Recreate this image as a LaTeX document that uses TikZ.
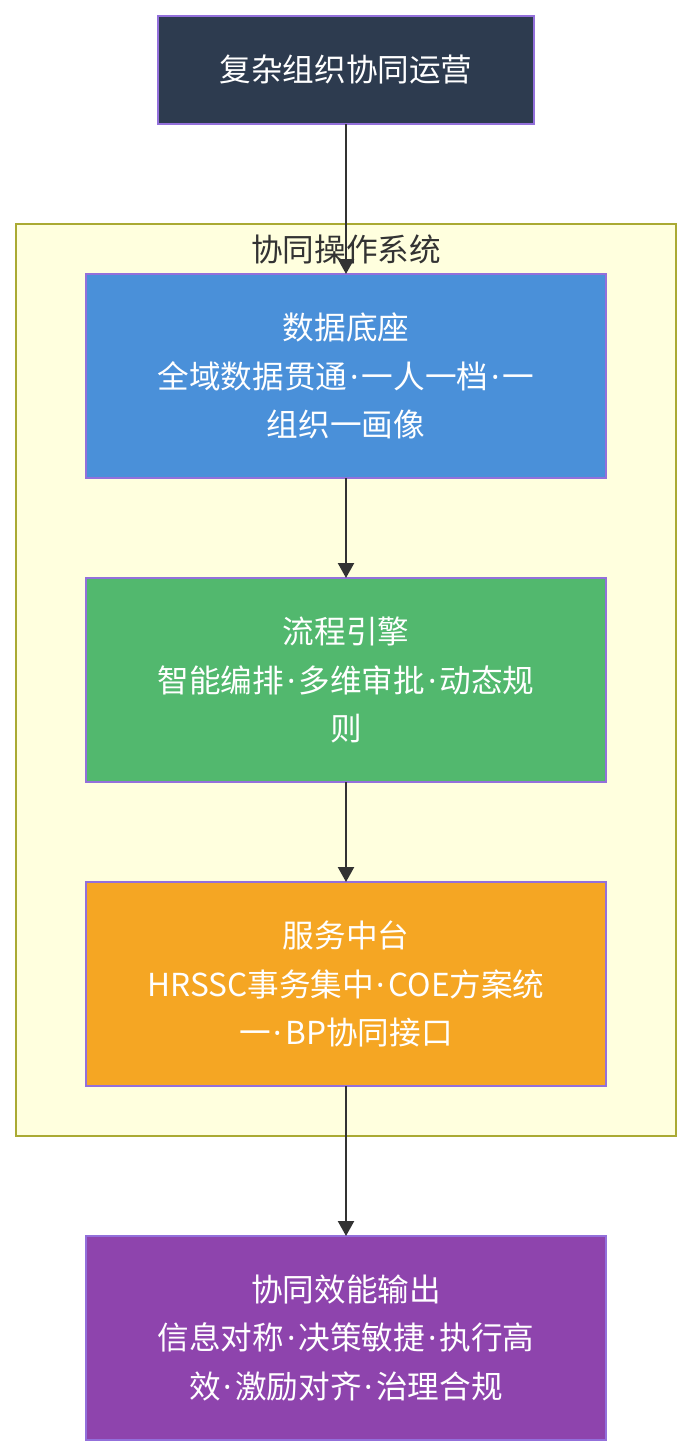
\documentclass[tikz,border=0pt]{standalone}
\usepackage{fontspec}
\setmainfont{Noto Sans CJK SC}
\newfontfamily\latinfont{Noto Sans}
\usetikzlibrary{arrows.meta, positioning, calc, backgrounds}
\definecolor{TopBg}{HTML}{2D3B4F}
\definecolor{DataBg}{HTML}{4A90D9}
\definecolor{FlowBg}{HTML}{52B86E}
\definecolor{ServBg}{HTML}{F5A623}
\definecolor{OutBg}{HTML}{8E44AD}
\definecolor{NodeBorder}{HTML}{9370DB}
\definecolor{ClusterBg}{HTML}{FFFFDE}
\definecolor{ClusterBorder}{HTML}{AAAA33}
\definecolor{LineDark}{HTML}{333333}
\newcommand{\sdot}{\kern0.06cm{\latinfont ·}\kern0.06cm}

\begin{document}
\begin{tikzpicture}[
        node distance=2cm,
        box/.style={rectangle, draw=NodeBorder, line width=0.04cm, outer sep=0pt, minimum width=10.4cm, minimum height=4.08cm, align=center, font=\fontsize{18}{27.5}\selectfont, text=white},
        tbox/.style={box, fill=TopBg, minimum width=7.52cm, minimum height=2.16cm},
        dbox/.style={box, fill=DataBg},
        fbox/.style={box, fill=FlowBg},
        sbox/.style={box, fill=ServBg},
        obox/.style={box, fill=OutBg},
        arr/.style={-{Triangle[width=0.32cm, length=0.3cm]}, line width=0.045cm, LineDark}
      ]
        \useasboundingbox (0,0) rectangle (13.84,-29.12);

        \node[tbox] (org) at (6.92,-1.4) {复杂组织协同运营};
        \node[dbox, below=3cm of org] (data) {数据底座\\全域数据贯通\sdot 一人一档\sdot 一\\组织一画像};
        \node[fbox, below=of data] (flow) {流程引擎\\智能编排\sdot 多维审批\sdot 动态规\\则};
        \node[sbox, below=of flow] (serv) {服务中台\\HRSSC事务集中\sdot COE方案统\\一\sdot BP协同接口};
        \node[obox, below=3cm of serv] (out) {协同效能输出\\信息对称\sdot 决策敏捷\sdot 执行高\\效\sdot 激励对齐\sdot 治理合规};

        % cluster behind the three layers
        \begin{scope}[on background layer]
          \draw[draw=ClusterBorder, fill=ClusterBg, line width=0.04cm] ($(data.north west)+(-1.4,1)$) rectangle ($(serv.south east)+(1.4,-1)$);
          \node[anchor=north, font=\fontsize{18}{22}\selectfont, text=LineDark, inner sep=0pt] (sys) at ($(data.north)+(0,0.8)$) {协同操作系统};
        \end{scope}

        \draw[arr] (org) -- (data);
        \draw[arr] (data) -- (flow);
        \draw[arr] (flow) -- (serv);
        \draw[arr] (serv) -- (out);
      \end{tikzpicture}
\end{document}
